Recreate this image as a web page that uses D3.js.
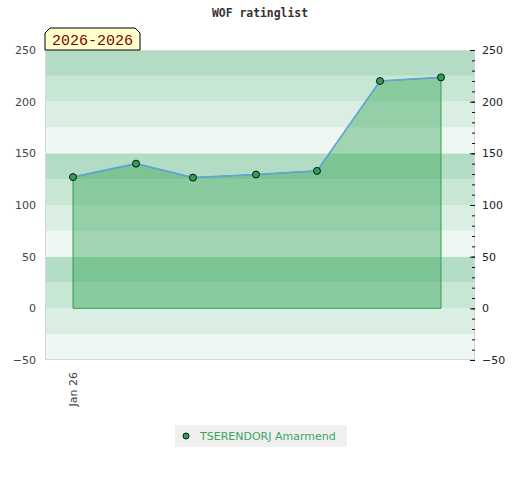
<!DOCTYPE html>
<html>
<head>
<meta charset="utf-8">
<script src="https://cdn.jsdelivr.net/npm/d3@7"></script>
<style>
  body { margin: 0; background: #fff; }
  svg { display: block; }
  .ax text { font-family: "DejaVu Sans", sans-serif; font-size: 11px; fill: #444; }
</style>
</head>
<body>
<svg id="chart" width="520" height="480"></svg>
<script>
// data
var dates = ["2026-01-01", "2026-02-01", "2026-03-01", "2026-04-01", "2026-05-01", "2026-06-01", "2026-07-01"];
var ratings = [127, 140, 126.5, 129.5, 133, 220, 223.5];
var yTicks = [-50, 0, 50, 100, 150, 200, 250];
var xTicks = ["2026-01-01"];
var seriesName = "TSERENDORJ Amarmend";
var titleText = "WOF ratinglist";
var periodText = "2026-2026";

var bandColors = ["#b3dcc4", "#c8e6d4", "#dbeee3", "#eff7f2"];
var parse = d3.timeParse("%Y-%m-%d");

var frame = {left: 45, right: 475, top: 50, bottom: 360};
var svg = d3.select("#chart");

var x = d3.scaleTime()
    .domain([parse(dates[0]), parse(dates[dates.length - 1])])
    .range([73, 441]);
var y = d3.scaleLinear().domain([-50, 250]).range([frame.bottom, frame.top]);

var points = dates.map(function(d, i) {
    return {date: parse(d), value: ratings[i]};
});

// title
svg.append("text")
    .attr("x", 260).attr("y", 17)
    .attr("text-anchor", "middle")
    .style("font-family", "'DejaVu Sans Mono', monospace")
    .style("font-weight", "bold")
    .style("font-size", "11.4px")
    .style("fill", "#333")
    .text(titleText);

// background bands, 25 points each
var bandStarts = d3.range(-50, 250, 25);
svg.append("g").selectAll("rect")
    .data(bandStarts)
    .enter().append("rect")
    .attr("x", frame.left)
    .attr("width", frame.right - frame.left)
    .attr("y", function(d) { return y(d + 25); })
    .attr("height", function(d) { return y(d) - y(d + 25); })
    .style("fill", function(d) { return bandColors[(((225 - d) / 25) % 4 + 4) % 4]; });

// frame
svg.append("rect")
    .attr("x", frame.left + 0.5).attr("y", frame.top + 0.5)
    .attr("width", frame.right - frame.left - 1)
    .attr("height", frame.bottom - frame.top - 1)
    .style("fill", "none")
    .style("stroke", "#d8d8d8");

// area
var area = d3.area()
    .x(function(d) { return x(d.date); })
    .y0(y(0))
    .y1(function(d) { return y(d.value); });
svg.append("path")
    .datum(points)
    .attr("d", area)
    .style("fill", "rgba(46,160,80,0.4)")
    .style("stroke", "#2f9e52")
    .style("stroke-width", 1);

var line = d3.line()
    .x(function(d) { return x(d.date); })
    .y(function(d) { return y(d.value); });
svg.append("path")
    .datum(points)
    .attr("d", line)
    .style("fill", "none")
    .style("stroke", "#62a3d6")
    .style("stroke-width", 1.6);

svg.append("g").selectAll("circle")
    .data(points)
    .enter().append("circle")
    .attr("cx", function(d) { return x(d.date); })
    .attr("cy", function(d) { return y(d.value); })
    .attr("r", 3.5)
    .style("fill", "#30a058")
    .style("stroke", "#111")
    .style("stroke-width", 1);

// left axis, labels only
var left = svg.append("g").attr("class", "ax")
    .attr("transform", "translate(" + frame.left + ",0)")
    .call(d3.axisLeft(y).tickValues(yTicks).tickSize(0).tickPadding(9));
left.select(".domain").remove();

// right axis with minor ticks pointing inward
var rightMinor = svg.append("g")
    .attr("transform", "translate(" + frame.right + ",0)")
    .call(d3.axisRight(y).tickValues(d3.range(-40, 250, 10)).tickSize(-3).tickFormat(""));
rightMinor.select(".domain").remove();
rightMinor.selectAll("line").style("stroke", "#111");

var right = svg.append("g").attr("class", "ax")
    .attr("transform", "translate(" + frame.right + ",0)")
    .call(d3.axisRight(y).tickValues(yTicks).tickSize(-5).tickPadding(7));
right.select(".domain").remove();
right.selectAll("line").style("stroke", "#111");
right.selectAll("text").style("fill", "#222");

// bottom axis
var bottom = svg.append("g").attr("class", "ax")
    .attr("transform", "translate(0," + frame.bottom + ")")
    .call(d3.axisBottom(x).tickValues(xTicks.map(parse)).tickSize(0).tickFormat(d3.timeFormat("%b %y")));
bottom.select(".domain").remove();
bottom.selectAll("text")
    .attr("text-anchor", "end")
    .attr("transform", "translate(0,12) rotate(-90)")
    .attr("x", 0).attr("y", 0).attr("dy", "0.35em");

// period label box with clipped top corners
var bx = frame.left, bw = 95, bh = 22, by = frame.top - bh, c = 5;
svg.append("path")
    .attr("d", "M" + bx + "," + frame.top + "V" + (by + c) + "L" + (bx + c) + "," + by +
        "H" + (bx + bw - c) + "L" + (bx + bw) + "," + (by + c) + "V" + frame.top + "Z")
    .style("fill", "#ffffcc")
    .style("stroke", "#000")
    .style("stroke-width", 1);
svg.append("text")
    .attr("x", bx + bw / 2).attr("y", frame.top - 5)
    .attr("text-anchor", "middle")
    .style("font-family", "'Liberation Mono', monospace")
    .style("font-size", "15px")
    .style("fill", "#800000")
    .text(periodText);

// legend
var lg = svg.append("g").attr("transform", "translate(175,425)");
lg.append("rect").attr("width", 172).attr("height", 22).style("fill", "#f0f0f0");
lg.append("circle").attr("cx", 11).attr("cy", 11).attr("r", 3)
    .style("fill", "#30a058").style("stroke", "#111");
lg.append("text").attr("x", 25).attr("y", 15)
    .style("font-family", "'DejaVu Sans', sans-serif")
    .style("font-size", "11px")
    .style("fill", "#3aa660")
    .text(seriesName);
</script>
</body>
</html>
